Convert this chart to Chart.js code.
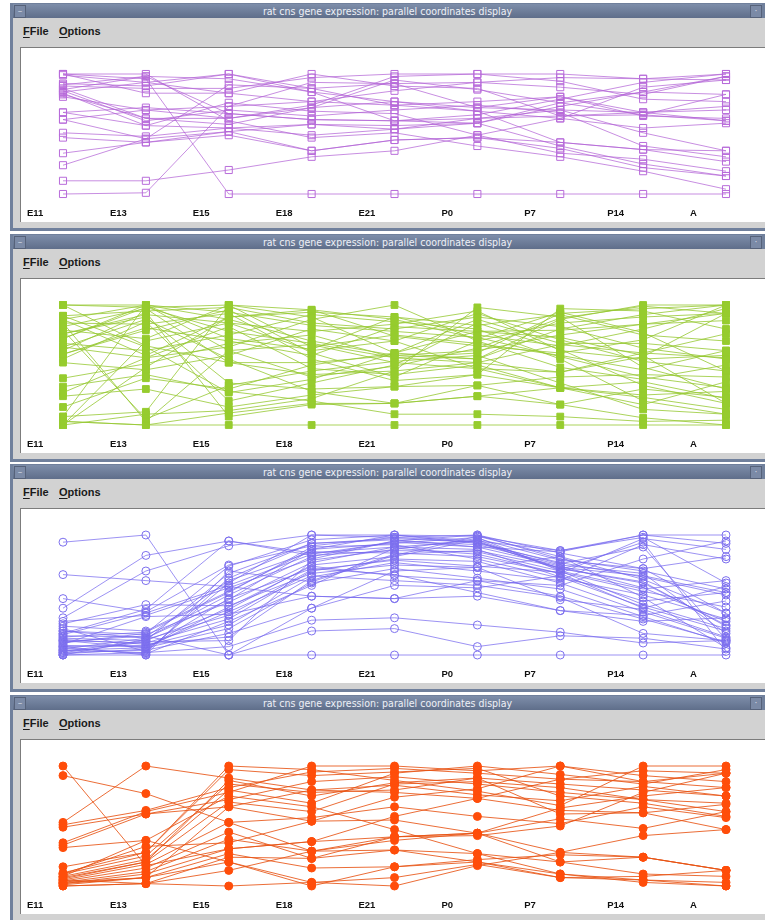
<!DOCTYPE html>
<html>
<head>
<meta charset="utf-8">
<title>rat cns gene expression: parallel coordinates display</title>
<script src="https://cdn.jsdelivr.net/npm/chart.js@4.4.1/dist/chart.umd.min.js"></script>
<style>
  html, body { margin: 0; padding: 0; background: #ffffff; width: 765px; height: 920px; overflow: hidden; }
  .win { position: absolute; left: 0; width: 765px; height: 232px; }
  .frame { position: absolute; left: 10px; top: 3px; width: 760px; height: 228px; background: #70809c; }
  .body { position: absolute; left: 13px; top: 18px; width: 760px; height: 210px; background: #d2d2d2; }
  .titlebar { position: absolute; left: 13px; top: 4px; width: 749px; height: 14px;
              background: linear-gradient(#7e8eaa, #5f6e8a); color: #eef0f6;
              font: 10.5px "Liberation Sans Narrow", "DejaVu Sans Condensed", sans-serif;
              line-height: 14px; text-align: center; }
  .btn { position: absolute; top: 5px; width: 10px; height: 11px; border: 1px solid #56627a;
         background: #7b8aa6; color: #d8dce6; font: 9px "DejaVu Sans", sans-serif; line-height: 10px; text-align: center; }
  .menu { position: absolute; top: 25px; font: bold 11px "Liberation Sans", Arial, sans-serif; color: #1a1a1a; line-height: 12px; }
  .menu u { text-decoration: underline; text-underline-offset: 2px; }
  .plot { position: absolute; left: 20px; top: 47px; width: 760px; height: 174px; background: #ffffff;
          border-top: 1px solid #7c7c7c; border-left: 1px solid #7c7c7c; }
  .plot canvas { position: absolute; left: 0; top: 0; }
</style>
</head>
<body>
<script>
// Developmental stages shown as the parallel axes
const AXIS_LABELS = ['E11', 'E13', 'E15', 'E18', 'E21', 'P0', 'P7', 'P14', 'A'];

// Normalised expression profiles (0 = lowest, 1 = highest), one row per gene
const purpleProfiles = [
  [0.00, 0.01, 0.73, 0.77, 0.86, 0.93, 0.97, 0.96, 1.00],
  [0.11, 0.11, 0.20, 0.31, 0.36, 0.49, 0.63, 0.55, 0.59],
  [0.24, 0.46, 0.91, 0.88, 0.74, 0.69, 0.43, 0.37, 0.27],
  [0.34, 0.43, 0.52, 0.58, 0.57, 0.59, 0.73, 0.85, 0.98],
  [0.47, 0.43, 0.49, 0.36, 0.45, 0.47, 0.38, 0.22, 0.15],
  [0.51, 0.48, 0.55, 0.49, 0.54, 0.63, 0.70, 0.68, 0.70],
  [0.62, 0.70, 0.63, 0.74, 0.98, 1.00, 0.94, 0.79, 0.77],
  [0.68, 0.72, 0.67, 0.62, 0.61, 0.66, 0.79, 0.93, 1.00],
  [1.00, 1.00, 0.61, 0.47, 0.51, 0.40, 0.31, 0.19, 0.04],
  [1.00, 0.96, 0.00, 0.00, 0.00, 0.00, 0.00, 0.00, 0.00],
  [0.99, 0.93, 0.84, 1.00, 0.90, 0.88, 0.65, 0.66, 0.61],
  [0.92, 0.90, 1.00, 0.85, 0.77, 0.72, 0.81, 0.65, 0.63],
  [0.90, 0.88, 0.88, 0.97, 1.00, 1.00, 1.00, 0.96, 0.95],
  [0.88, 0.63, 0.58, 0.72, 0.95, 0.87, 0.76, 0.85, 0.83],
  [0.86, 0.61, 0.70, 0.65, 0.70, 0.74, 0.68, 0.40, 0.31],
  [0.84, 0.57, 0.76, 0.69, 0.67, 0.49, 0.34, 0.29, 0.19],
  [0.81, 0.70, 0.73, 0.93, 0.92, 0.72, 0.70, 0.51, 0.36],
  [0.91, 0.98, 0.96, 0.85, 0.61, 0.59, 0.40, 0.25, 0.15],
  [0.62, 0.46, 0.52, 0.36, 0.45, 0.47, 0.43, 0.37, 0.36],
  [1.00, 0.84, 0.84, 0.77, 0.74, 0.77, 0.81, 0.68, 0.73],
  [0.87, 0.98, 0.67, 0.62, 0.61, 0.63, 0.65, 0.68, 0.61],
  [0.85, 0.93, 1.00, 0.88, 0.92, 0.93, 0.89, 0.83, 0.98],
  [0.83, 0.63, 0.63, 0.72, 0.77, 0.69, 0.63, 0.89, 0.95],
  [0.68, 0.57, 0.55, 0.58, 0.54, 0.59, 0.76, 0.66, 0.83]
];

const greenProfiles = [
  [1.00, 0.98, 1.00, 0.90, 0.60, 0.55, 0.88, 1.00, 1.00],
  [1.00, 1.00, 0.62, 0.67, 0.52, 0.47, 0.44, 0.57, 0.93],
  [0.91, 0.95, 0.98, 0.85, 0.80, 0.90, 0.82, 0.64, 0.55],
  [0.88, 1.00, 0.72, 0.63, 0.90, 0.75, 0.66, 0.80, 0.97],
  [0.85, 0.84, 0.93, 0.55, 0.37, 0.42, 0.97, 0.95, 0.80],
  [0.82, 0.97, 0.52, 0.42, 0.45, 0.98, 0.90, 0.48, 0.30],
  [0.79, 0.72, 1.00, 0.96, 0.74, 0.66, 0.60, 0.71, 1.00],
  [0.76, 0.90, 0.35, 0.30, 0.32, 0.33, 0.40, 0.42, 0.40],
  [0.72, 1.00, 0.88, 0.70, 0.58, 0.62, 0.75, 0.84, 0.87],
  [0.68, 0.62, 0.75, 0.92, 0.86, 0.80, 0.55, 0.20, 0.09],
  [0.65, 0.56, 0.82, 0.47, 0.42, 0.50, 0.31, 0.25, 0.28],
  [0.62, 0.94, 0.07, 0.17, 0.18, 0.24, 0.17, 0.06, 0.00],
  [0.59, 0.79, 0.96, 0.60, 0.40, 0.70, 0.85, 0.90, 0.93],
  [0.55, 0.86, 0.20, 0.35, 0.50, 0.85, 0.63, 0.33, 0.18],
  [0.52, 0.46, 0.58, 0.80, 0.70, 0.93, 0.71, 0.53, 0.45],
  [0.39, 0.51, 0.68, 0.75, 0.56, 0.60, 0.93, 0.97, 1.00],
  [0.32, 0.42, 0.28, 0.20, 0.09, 0.09, 0.07, 0.03, 0.04],
  [0.27, 0.56, 0.65, 0.88, 1.00, 0.70, 0.48, 0.38, 0.50],
  [0.24, 0.30, 0.15, 0.25, 0.32, 0.42, 0.31, 0.17, 0.36],
  [0.15, 0.39, 0.30, 0.50, 0.60, 0.78, 0.79, 0.84, 0.93],
  [0.07, 0.11, 1.00, 0.65, 0.75, 0.68, 0.58, 0.46, 0.62],
  [0.03, 0.00, 0.00, 0.00, 0.00, 0.00, 0.00, 0.00, 0.00],
  [0.00, 0.09, 0.12, 0.22, 0.45, 0.52, 0.44, 0.60, 0.76],
  [0.00, 0.70, 0.85, 0.78, 0.84, 0.95, 0.62, 0.55, 0.58],
  [0.91, 0.65, 0.27, 0.38, 0.60, 0.88, 0.68, 0.68, 0.62],
  [0.88, 0.58, 0.90, 0.96, 0.88, 0.72, 0.94, 0.77, 0.45],
  [0.79, 0.05, 0.33, 0.45, 0.53, 0.58, 0.35, 0.13, 0.09],
  [0.72, 0.98, 0.78, 0.68, 0.56, 0.52, 0.67, 0.60, 0.56],
  [0.65, 0.88, 0.55, 0.28, 0.18, 0.33, 0.17, 0.30, 0.23],
  [0.59, 0.81, 0.70, 0.58, 0.82, 0.78, 0.73, 0.58, 0.18],
  [0.85, 0.03, 0.62, 0.40, 0.49, 0.64, 0.89, 0.99, 0.93],
  [0.07, 1.00, 0.94, 0.83, 0.78, 0.73, 0.57, 0.40, 0.31],
  [0.00, 0.48, 0.90, 0.94, 0.90, 0.83, 0.92, 0.75, 0.70],
  [0.03, 0.00, 0.10, 0.18, 0.18, 0.24, 0.31, 0.23, 0.13],
  [1.00, 0.66, 0.52, 0.52, 0.58, 0.55, 0.80, 0.92, 1.00],
  [0.76, 0.92, 0.85, 0.62, 0.70, 0.47, 0.31, 0.36, 0.22]
];

const blueProfiles = [
  [0.94, 1.00, 0.00, 0.00, 0.00, 0.00, 0.00, 0.00, 0.00],
  [0.67, 0.62, 0.57, 0.49, 0.47, 0.49, 0.37, 0.28, 0.31],
  [0.47, 0.36, 0.75, 0.91, 0.98, 1.00, 0.80, 0.70, 0.55],
  [0.39, 0.83, 0.95, 0.85, 0.90, 0.95, 0.87, 1.00, 1.00],
  [0.31, 0.70, 0.91, 1.00, 1.00, 0.93, 0.77, 0.65, 0.50],
  [0.28, 0.33, 0.56, 0.80, 0.95, 1.00, 0.85, 0.72, 0.35],
  [0.24, 0.20, 0.53, 0.88, 0.93, 0.98, 0.70, 0.55, 0.62],
  [0.20, 0.17, 0.44, 0.77, 0.90, 0.88, 0.65, 0.40, 0.20],
  [0.16, 0.15, 0.62, 0.86, 0.85, 0.82, 0.68, 0.97, 0.88],
  [0.14, 0.12, 0.38, 0.75, 0.82, 0.96, 0.72, 0.60, 0.25],
  [0.12, 0.10, 0.30, 0.70, 0.80, 0.78, 0.60, 0.36, 0.14],
  [0.07, 0.08, 0.25, 0.65, 0.77, 0.70, 0.62, 0.92, 0.80],
  [0.04, 0.06, 0.22, 0.60, 0.72, 0.64, 0.55, 0.32, 0.10],
  [0.02, 0.04, 0.18, 0.39, 0.58, 0.56, 0.66, 0.45, 0.52],
  [0.00, 0.02, 0.07, 0.29, 0.31, 0.25, 0.19, 0.10, 0.12],
  [0.00, 0.00, 0.00, 0.20, 0.22, 0.07, 0.16, 0.14, 0.05],
  [0.10, 0.18, 0.74, 0.96, 1.00, 0.99, 0.87, 0.98, 0.60],
  [0.05, 0.14, 0.50, 0.82, 0.95, 0.92, 0.75, 0.68, 0.18],
  [0.18, 0.38, 0.95, 0.83, 0.87, 0.86, 0.70, 0.42, 0.22],
  [0.26, 0.42, 0.41, 0.68, 0.75, 0.73, 0.46, 0.38, 0.15],
  [0.09, 0.32, 0.34, 0.49, 0.47, 0.62, 0.58, 0.80, 0.95],
  [0.03, 0.12, 0.68, 0.93, 0.96, 0.90, 0.74, 0.56, 0.28],
  [0.01, 0.05, 0.47, 0.72, 0.67, 0.52, 0.37, 0.33, 0.45],
  [0.13, 0.09, 0.15, 0.62, 0.84, 0.87, 0.73, 0.66, 0.52],
  [0.22, 0.03, 0.60, 1.00, 0.98, 0.94, 0.76, 0.90, 0.13],
  [0.11, 0.16, 0.00, 0.39, 0.70, 0.73, 0.82, 0.63, 0.35],
  [0.06, 0.01, 0.28, 0.58, 0.89, 0.84, 0.68, 0.39, 0.57],
  [0.15, 0.19, 0.52, 0.90, 0.92, 0.80, 0.64, 0.50, 0.30],
  [0.08, 0.07, 0.36, 0.66, 0.62, 0.58, 0.48, 0.18, 0.12],
  [0.02, 0.11, 0.12, 0.79, 0.88, 0.97, 0.79, 0.72, 0.82],
  [0.17, 0.35, 0.58, 0.84, 0.94, 0.90, 0.86, 1.00, 0.93],
  [0.00, 0.13, 0.33, 0.71, 0.79, 0.74, 0.69, 0.53, 0.40],
  [0.04, 0.02, 0.64, 0.93, 0.97, 0.94, 0.72, 0.61, 0.24],
  [0.12, 0.06, 0.40, 0.74, 0.66, 0.62, 0.49, 0.30, 0.11],
  [0.07, 0.00, 0.70, 0.61, 0.83, 0.99, 0.82, 0.48, 0.06],
  [0.20, 0.14, 0.46, 0.88, 1.00, 0.95, 0.71, 0.94, 0.03]
];

const orangeProfiles = [
  [1.00, 0.17, 0.31, 0.37, 0.41, 0.44, 0.28, 0.24, 0.13],
  [0.53, 1.00, 0.90, 0.80, 0.78, 0.73, 0.63, 0.61, 0.47],
  [0.92, 0.77, 0.53, 0.29, 0.30, 0.27, 0.20, 0.10, 0.08],
  [0.51, 0.63, 0.82, 0.95, 0.98, 0.94, 0.89, 0.87, 0.82],
  [0.49, 0.60, 0.66, 0.54, 0.55, 0.44, 0.20, 0.24, 0.13],
  [0.36, 0.62, 0.78, 1.00, 1.00, 0.96, 1.00, 0.92, 0.87],
  [0.34, 0.60, 0.72, 0.87, 0.91, 0.85, 0.78, 0.72, 0.62],
  [0.32, 0.38, 0.75, 0.66, 0.47, 0.27, 0.10, 0.03, 0.00],
  [0.16, 0.28, 1.00, 0.97, 0.88, 0.79, 0.67, 1.00, 1.00],
  [0.10, 0.25, 0.85, 0.78, 0.80, 0.90, 0.85, 0.80, 0.75],
  [0.08, 0.22, 0.80, 0.69, 0.94, 1.00, 0.93, 0.85, 0.97],
  [0.06, 0.20, 0.70, 0.62, 0.85, 0.87, 0.82, 0.72, 0.69],
  [0.05, 0.18, 0.53, 0.57, 0.66, 0.58, 0.52, 0.66, 0.57],
  [0.04, 0.15, 0.45, 0.23, 0.30, 0.20, 0.07, 0.05, 0.00],
  [0.03, 0.12, 0.39, 0.29, 0.41, 0.44, 0.56, 0.48, 0.62],
  [0.02, 0.10, 0.31, 0.37, 0.58, 0.73, 0.89, 0.96, 0.94],
  [0.01, 0.07, 0.27, 0.15, 0.16, 0.22, 0.26, 0.24, 0.13],
  [0.00, 0.02, 0.24, 0.23, 0.41, 0.42, 0.50, 0.78, 0.94],
  [0.00, 0.02, 0.00, 0.03, 0.00, 0.17, 0.28, 0.42, 0.47],
  [0.08, 0.38, 0.20, 0.00, 0.16, 0.20, 0.10, 0.05, 0.03],
  [0.05, 0.02, 0.13, 0.29, 0.38, 0.44, 0.65, 0.75, 0.82],
  [0.03, 0.07, 0.66, 0.80, 0.84, 0.76, 0.71, 0.83, 0.75],
  [0.11, 0.28, 0.97, 0.92, 0.95, 0.98, 0.75, 0.69, 0.58],
  [0.07, 0.20, 0.88, 0.75, 0.86, 0.90, 0.60, 0.61, 0.68],
  [0.10, 0.33, 0.36, 0.54, 0.74, 0.81, 1.00, 0.87, 0.94],
  [0.02, 0.07, 0.20, 0.03, 0.07, 0.18, 0.07, 0.08, 0.13]
];

// Window tops on the page, one per cluster display
const WINDOW_TOPS = [0, 231, 461, 692];

const PANELS = [
  { profiles: purpleProfiles, line: 'rgba(178, 98, 214, 0.72)', mark: '#b86cda', fill: 'rgba(255,255,255,0)', shape: 'rect', radius: 5 },
  { profiles: greenProfiles,  line: 'rgba(150, 200, 50, 0.8)',  mark: '#96cc2e', fill: '#96cc2e', shape: 'rect', radius: 4.8 },
  { profiles: blueProfiles,   line: 'rgba(118, 104, 238, 0.72)', mark: '#7d70ee', fill: 'rgba(255,255,255,0)', shape: 'circle', radius: 4 },
  { profiles: orangeProfiles, line: 'rgba(232, 84, 20, 0.85)',  mark: '#ff4d0a', fill: '#ff4d0a', shape: 'circle', radius: 4 }
];

const PLOT_W = 744, PLOT_H = 173;
const AXIS_BAND = 25;   // room under the plotted lines for the stage names

function buildWindow(top, index) {
  const win = document.createElement('div');
  win.className = 'win';
  win.style.top = top + 'px';
  win.innerHTML =
    '<div class="frame"></div>' +
    '<div class="body"></div>' +
    '<div class="titlebar">rat cns gene expression: parallel coordinates display</div>' +
    '<div class="btn" style="left:14px">&#8211;</div>' +
    '<div class="btn" style="left:750px">&#183;</div>' +
    '<div class="menu" style="left:23px"><u>F</u>File</div>' +
    '<div class="menu" style="left:59px"><u>O</u>ptions</div>' +
    '<div class="plot"><canvas id="pc' + index + '" width="' + PLOT_W + '" height="' + PLOT_H + '"></canvas></div>';
  document.body.appendChild(win);
}

function drawPanel(index, panel) {
  const ctx = document.getElementById('pc' + index);
  new Chart(ctx, {
    type: 'line',
    data: {
      labels: AXIS_LABELS,
      datasets: panel.profiles.map(row => ({
        data: row,
        borderColor: panel.line,
        borderWidth: 1,
        tension: 0,
        fill: false,
        clip: false,
        pointStyle: panel.shape,
        pointRadius: panel.radius,
        pointBorderWidth: 1,
        pointBorderColor: panel.mark,
        pointBackgroundColor: panel.fill
      }))
    },
    options: {
      responsive: false,
      animation: false,
      devicePixelRatio: 1,
      events: [],
      layout: { padding: { left: 42, right: 39, top: 26, bottom: 2 } },
      plugins: { legend: { display: false }, tooltip: { enabled: false } },
      scales: {
        x: {
          type: 'category',
          offset: false,
          grid: { display: false, drawTicks: false },
          border: { display: false },
          afterFit: scale => { scale.height = AXIS_BAND; },
          ticks: {
            align: 'start',
            labelOffset: -36,
            padding: 14,
            autoSkip: false,
            maxRotation: 0,
            color: '#111111',
            font: { family: 'Liberation Sans', size: 9.5, weight: 'bold' }
          }
        },
        y: { min: 0, max: 1, display: false }
      }
    }
  });
}

WINDOW_TOPS.forEach((t, i) => buildWindow(t, i));
PANELS.forEach((p, i) => drawPanel(i, p));
</script>
</body>
</html>
